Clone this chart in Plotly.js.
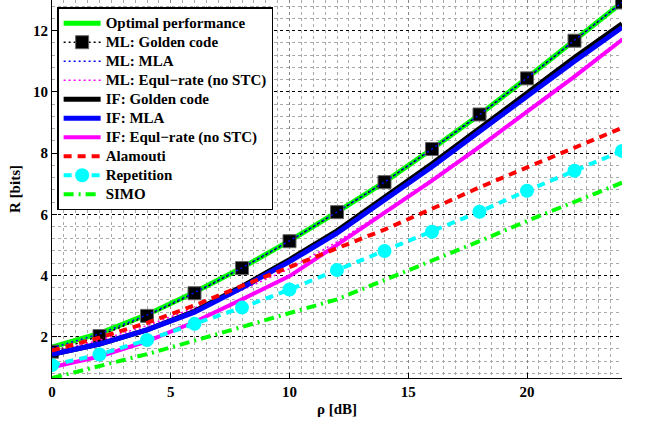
<!DOCTYPE html>
<html>
<head>
<meta charset="utf-8">
<script src="https://cdn.plot.ly/plotly-3.0.1.min.js"></script>
<style>html,body{margin:0;padding:0;background:#fff;}#chart{width:645px;height:425px;}</style>
</head>
<body>
<div id="chart"></div>
<script>
const rhoDb = [0, 2, 4, 6, 8, 10, 12, 14, 16, 18, 20, 22, 24];

const optimal      = [1.66, 2.11, 2.72, 3.45, 4.25, 5.13, 6.07, 7.05, 8.13, 9.25, 10.45, 11.67, 12.92];
const mlGolden     = [1.51, 2.02, 2.68, 3.42, 4.24, 5.12, 6.07, 7.05, 8.13, 9.26, 10.44, 11.67, 12.92];
const mlMla        = [1.63, 2.09, 2.71, 3.44, 4.25, 5.13, 6.07, 7.05, 8.13, 9.25, 10.45, 11.67, 12.92];
const mlEqul       = [1.50, 1.88, 2.36, 2.93, 3.52, 4.22, 5.10, 6.10, 7.15, 8.25, 9.40, 10.55, 11.75];
const ifGolden     = [1.42, 1.76, 2.22, 2.83, 3.64, 4.52, 5.46, 6.54, 7.65, 8.80, 9.96, 11.12, 12.22];
const ifMla        = [1.42, 1.76, 2.22, 2.80, 3.60, 4.45, 5.38, 6.45, 7.55, 8.70, 9.86, 11.00, 12.10];
const ifEqul       = [1.00, 1.35, 1.85, 2.48, 3.22, 3.98, 5.00, 6.05, 7.10, 8.20, 9.35, 10.50, 11.70];
const alamouti     = [1.55, 1.97, 2.45, 3.02, 3.66, 4.27, 4.86, 5.50, 6.18, 6.88, 7.53, 8.18, 8.82];
const repetition   = [1.07, 1.42, 1.89, 2.42, 2.95, 3.54, 4.18, 4.80, 5.43, 6.08, 6.77, 7.42, 8.07];
const simo         = [0.65, 1.03, 1.43, 1.87, 2.32, 2.80, 3.22, 3.85, 4.48, 5.12, 5.78, 6.42, 7.03];

const seriesNames = [
  'Optimal performance', 'ML: Golden code', 'ML: MLA', 'ML: Equl\u2212rate (no STC)',
  'IF: Golden code', 'IF: MLA', 'IF: Equl\u2212rate (no STC)', 'Alamouti', 'Repetition', 'SIMO'
];

const xTicks = [0, 5, 10, 15, 20];
const yTicks = [2, 4, 6, 8, 10, 12];

const serif = () => ({family: 'Liberation Serif', size: 15, color: '#000', weight: 'bold'});

function lbl(s) { return '<span style="font-size:15px">' + s + '</span>'; }

function tr(i, y, color, width, dash, extra) {
  return Object.assign({
    type: 'scatter', mode: 'lines', name: lbl(seriesNames[i]), x: rhoDb, y: y,
    line: {color: color, width: width, dash: dash}
  }, extra || {});
}

const traces = [
  tr(0, optimal, '#00ff00', 5, 'solid'),
  tr(1, mlGolden, '#000000', 1.5, '2px,3px',
     {mode: 'lines+markers', marker: {symbol: 'square', size: 13, color: '#000', line: {color: '#666', width: 1}}}),
  tr(2, mlMla, '#0000ff', 1.5, '2px,3px'),
  tr(3, mlEqul, '#ff00ff', 1.5, '2px,3px'),
  tr(4, ifGolden, '#000000', 5, 'solid'),
  tr(5, ifMla, '#0000ff', 5, 'solid'),
  tr(6, ifEqul, '#ff00ff', 4, 'solid'),
  tr(7, alamouti, '#ff0000', 4, '8px,6px'),
  tr(8, repetition, '#00ffff', 4, '8px,6px',
     {mode: 'lines+markers', marker: {symbol: 'circle', size: 14, color: '#00ffff'}}),
  tr(9, simo, '#00ff00', 4, '10px,5px,2px,5px')
];

const legendFont = serif(); legendFont.size = 12;

const layout = {
  width: 645, height: 425,
  margin: {l: 52, r: 23, t: 0, b: 47},
  paper_bgcolor: '#fff', plot_bgcolor: '#fff',
  font: serif(),
  showlegend: true,
  legend: {
    x: 0.009, y: 0.981, xanchor: 'left', yanchor: 'top',
    bgcolor: '#fff', bordercolor: '#000', borderwidth: 1.5,
    font: legendFont, itemwidth: 37, tracegroupgap: 0
  },
  xaxis: {
    range: [0, 24], tickvals: xTicks, ticktext: xTicks.map(String),
    ticks: 'inside', ticklen: 5, tickcolor: '#000',
    showline: true, linecolor: '#000', linewidth: 1, mirror: false,
    showgrid: true, gridcolor: '#888', griddash: 'dot', gridwidth: 1,
    zeroline: false,
    minor: {dtick: 0.5, tick0: 0, showgrid: true, gridcolor: '#aaa', griddash: 'dot', gridwidth: 1, ticks: ''},
    tickfont: serif(),
    title: {text: '\u03c1 [dB]', font: serif(), standoff: 4}
  },
  yaxis: {
    range: [0.65, 13.0], tickvals: yTicks, ticktext: yTicks.map(String),
    ticks: 'inside', ticklen: 5, tickcolor: '#000',
    showline: true, linecolor: '#000', linewidth: 1, mirror: false,
    showgrid: true, gridcolor: '#000', griddash: 'dot', gridwidth: 1,
    zeroline: false,
    minor: {dtick: 0.4, tick0: 0, showgrid: true, gridcolor: '#aaa', griddash: 'dot', gridwidth: 1, ticks: ''},
    tickfont: serif(),
    title: {text: 'R [bits]', font: serif(), standoff: 8}
  }
};

Plotly.newPlot('chart', traces, layout, {displayModeBar: false, staticPlot: true});
</script>
</body>
</html>
